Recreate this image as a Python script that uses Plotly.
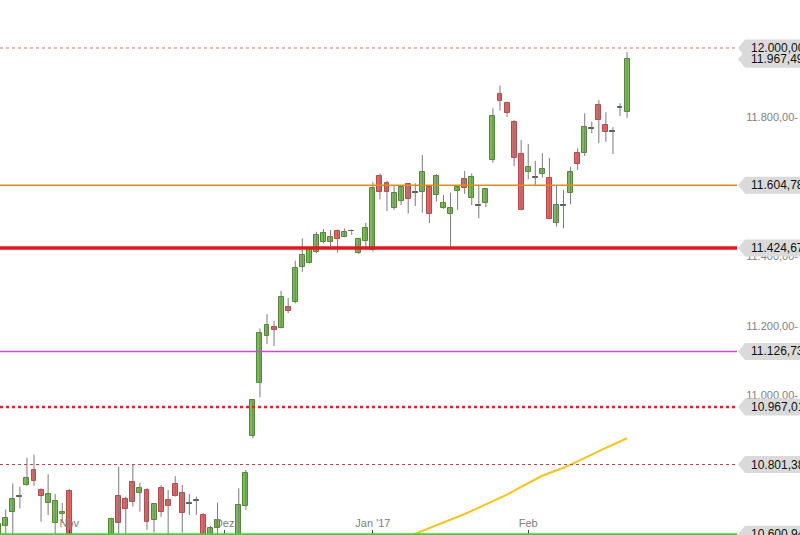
import pandas as pd
import plotly.graph_objects as go

# ---------------- data ----------------
dates = [d for d in pd.bdate_range("2016-10-18", "2017-02-21") if d != pd.Timestamp("2016-12-26")]

opens = [10560, 10625, 10665, 10708, 10742, 10786, 10727, 10692, 10634, 10659,
         10725, 10500, 10400, 10300, 10400, 10450, 10380, 10711, 10701, 10751,
         10720, 10727, 10642, 10735, 10698, 10745, 10719, 10688, 10699, 10656,
         10560, 10618, 10590, 10520, 10450, 10682, 10883, 11035, 11171, 11198,
         11195, 11254, 11268, 11369, 11382, 11414, 11443, 11443, 11474, 11457,
         11472, 11411, 11445, 11420, 11632, 11611, 11539, 11559, 11608, 11582,
         11587, 11599, 11576, 11539, 11521, 11589, 11622, 11567, 11547, 11553,
         11678, 11868, 11841, 11786, 11694, 11644, 11626, 11637, 11627, 11497,
         11545, 11582, 11699, 11697, 11768, 11836, 11778, 11757, 11826, 11817]
highs = [10640, 10672, 10747, 10738, 10821, 10830, 10733, 10773, 10717, 10691,
         10731, 10520, 10420, 10350, 10470, 10500, 10648, 10795, 10709, 10803,
         10749, 10733, 10690, 10742, 10728, 10768, 10742, 10717, 10709, 10661,
         10625, 10692, 10598, 10560, 10733, 10786, 10990, 11193, 11234, 11214,
         11301, 11280, 11388, 11452, 11428, 11471, 11479, 11476, 11478, 11481,
         11478, 11452, 11497, 11615, 11639, 11618, 11603, 11601, 11611, 11611,
         11692, 11601, 11637, 11577, 11584, 11601, 11646, 11639, 11603, 11596,
         11826, 11892, 11846, 11793, 11735, 11724, 11675, 11697, 11683, 11604,
         11591, 11658, 11711, 11812, 11788, 11850, 11815, 11772, 11841, 11988]
lows = [10540, 10590, 10595, 10675, 10740, 10740, 10637, 10656, 10590, 10633,
        10500, 10360, 10300, 10230, 10390, 10420, 9970, 10600, 10600, 10680,
        10666, 10613, 10605, 10651, 10598, 10709, 10605, 10656, 10656, 10540,
        10530, 10590, 10500, 10400, 10400, 10671, 10877, 10995, 11148, 11143,
        11193, 11237, 11265, 11356, 11380, 11409, 11438, 11428, 11411, 11455,
        11462, 11407, 11419, 11414, 11565, 11531, 11534, 11548, 11524, 11545,
        11526, 11496, 11558, 11537, 11428, 11534, 11580, 11548, 11510, 11542,
        11670, 11820, 11801, 11660, 11533, 11622, 11606, 11627, 11507, 11486,
        11481, 11550, 11649, 11689, 11755, 11726, 11730, 11695, 11804, 11799]
closes = [10630, 10647, 10702, 10711, 10762, 10755, 10711, 10717, 10697, 10666,
          10530, 10370, 10325, 10259, 10456, 10482, 10646, 10632, 10672, 10694,
          10735, 10637, 10687, 10664, 10683, 10711, 10661, 10691, 10697, 10580,
          10620, 10642, 10534, 10513, 10685, 10776, 10987, 11179, 11202, 11188,
          11283, 11242, 11366, 11404, 11421, 11462, 11467, 11455, 11449, 11470,
          11474, 11449, 11481, 11596, 11585, 11585, 11582, 11599, 11565, 11585,
          11644, 11522, 11632, 11555, 11540, 11599, 11596, 11630, 11545, 11593,
          11805, 11847, 11814, 11683, 11535, 11658, 11628, 11651, 11509, 11548,
          11547, 11642, 11666, 11774, 11771, 11793, 11757, 11760, 11829, 11967.49]

# moving average (visible part), index 57..89
ma_start = 57
ma_values = [10586, 10594, 10601, 10609, 10617, 10625, 10633, 10641, 10650, 10659,
             10668, 10677, 10686, 10695, 10704, 10715, 10726, 10737, 10749, 10760,
             10769, 10777, 10784, 10792, 10801, 10810, 10820, 10830, 10840, 10849,
             10858, 10867, 10877]

month_labels = ["Nov", "Dez", "Jan '17", "Feb"]

level_values = [12000.00, 11604.78, 11424.67, 11126.73, 10967.01, 10801.38, 10600.94]
level_colors = ["#e06a6a", "#e48c12", "#e8151b", "#cc48cc", "#e02424", "#b84444", "#22e622"]
level_widths = [1, 1.5, 3.5, 1.5, 2.5, 1, 2]
level_dashes = ["dot", "solid", "solid", "solid", "dot", "dot", "solid"]

label_values = [11967.49, 12000.00, 11604.78, 11424.67, 11126.73, 10967.01, 10801.38, 10600.94]

ytick_values = [11000, 11200, 11400, 11600, 11800, 12000]


def de(v):
    s = f"{v:,.2f}"
    return s.replace(",", "X").replace(".", ",").replace("X", ".")


# ---------------- figure ----------------
idx = list(range(len(opens)))
fig = go.Figure()

# wicks
wx, wy = [], []
for i, h, l in zip(idx, highs, lows):
    wx += [i, i, None]
    wy += [l, h, None]
fig.add_trace(go.Scatter(x=wx, y=wy, mode="lines",
                         line=dict(color="#7a7a7a", width=1), hoverinfo="skip"))

# bodies
bases = [min(o, c) for o, c in zip(opens, closes)]
heights = [max(abs(c - o), 2.5) for o, c in zip(opens, closes)]
fills = ["#7abd55" if c >= o else "#e26565" for o, c in zip(opens, closes)]
edges = ["#4f8a32" if c >= o else "#b84848" for o, c in zip(opens, closes)]
for k, (o, c) in enumerate(zip(opens, closes)):
    if abs(c - o) < 4:
        fills[k] = "#555555"
        edges[k] = "#555555"
fig.add_trace(go.Bar(x=idx, y=heights, base=bases, width=0.7,
                     marker=dict(color=fills, line=dict(color=edges, width=1))))

# moving average
fig.add_trace(go.Scatter(x=list(range(ma_start, ma_start + len(ma_values))), y=ma_values,
                         mode="lines", line=dict(color="#f5c518", width=2)))

shapes = []
for v, col, w, d in zip(level_values, level_colors, level_widths, level_dashes):
    shapes.append(dict(type="line", xref="paper", yref="y", x0=0, x1=1, y0=v, y1=v,
                       line=dict(color=col, width=w, dash=d), layer="above"))

annotations = []
half = 24.5
tip, left, right = 1.0014, 1.0109, 1.10
for v in label_values:
    path = (f"M {tip},{v} L {left},{v + half} L {right},{v + half} "
            f"L {right},{v - half} L {left},{v - half} Z")
    shapes.append(dict(type="path", xref="paper", yref="y", path=path,
                       fillcolor="#dadada", line=dict(width=0), layer="above"))

for v in label_values:
    annotations.append(dict(xref="paper", yref="y", x=1.0163, y=v, xanchor="left",
                            yanchor="middle", text=de(v), showarrow=False,
                            font=dict(family="Liberation Sans, Arial", size=12, color="#111111")))

tickpos = []
for k in range(1, len(dates)):
    if dates[k].month != dates[k - 1].month:
        tickpos.append(k)

fig.update_layout(
    width=800, height=535,
    margin=dict(l=0, r=63, t=0, b=0),
    paper_bgcolor="white", plot_bgcolor="white",
    showlegend=False, bargap=0,
    shapes=shapes,
    annotations=annotations,
    font=dict(family="Liberation Sans, Arial"),
    xaxis=dict(range=[0.184, 104.57], tickvals=tickpos, ticktext=month_labels,
               ticks="inside", ticklen=5, tickcolor="#444444", tickwidth=1,
               ticklabelposition="inside", tickfont=dict(size=11, color="#808080"),
               showgrid=False, zeroline=False, showline=False),
    yaxis=dict(side="right", range=[10598.6, 12138.1], tickvals=ytick_values,
               ticktext=[de(v) + "-" for v in ytick_values],
               ticks="outside", ticklen=6, tickcolor="rgba(0,0,0,0)",
               tickfont=dict(size=11, color="#808080"),
               showgrid=False, zeroline=False, showline=False),
)

fig.write_html("out.html", config={"displayModeBar": False},
               post_script="document.body.style.margin='0';document.body.style.overflow='hidden';")
